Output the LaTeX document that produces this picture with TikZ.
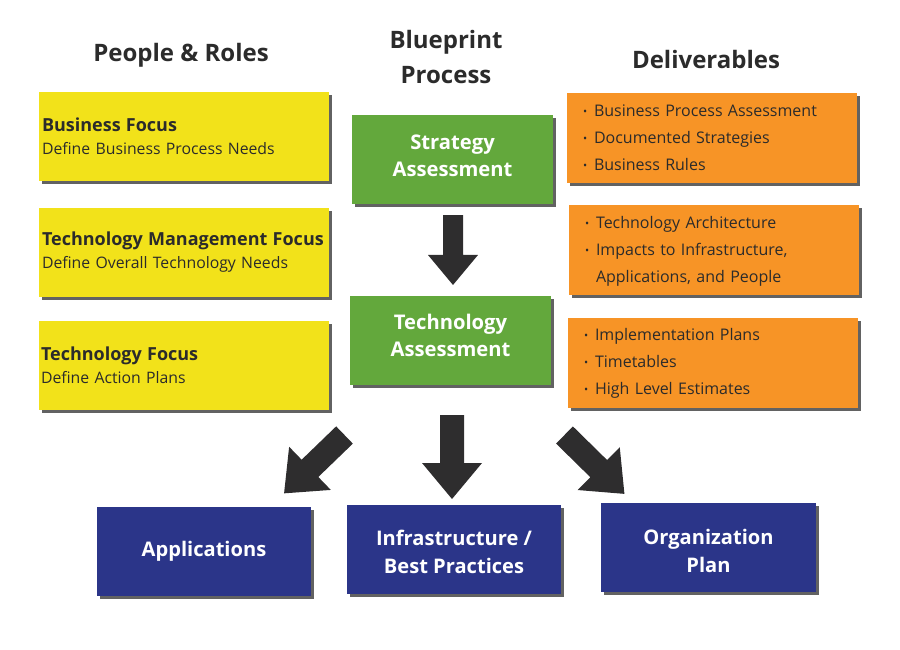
\documentclass[tikz,border=0pt]{standalone}
\usepackage{fontspec}
\setmainfont{Open Sans}
\usetikzlibrary{shadows,calc}
\definecolor{ybox}{RGB}{242,226,26}
\definecolor{gbox}{RGB}{99,168,60}
\definecolor{obox}{RGB}{247,148,38}
\definecolor{bbox}{RGB}{43,53,137}
\definecolor{arrowc}{RGB}{46,45,46}
\definecolor{txt}{RGB}{43,43,43}
\definecolor{shadowc}{RGB}{70,70,70}
\begin{document}
\begin{tikzpicture}[x=1pt,y=-1pt,
  boxbase/.style={inner sep=0pt, drop shadow={shadow xshift=3pt, shadow yshift=-3pt, fill=shadowc, opacity=0.85}},
  header/.style={text=txt, font=\fontsize{24}{35}\selectfont\bfseries, align=center},
  ybx/.style={boxbase, fill=ybox, text width=284pt, inner xsep=3pt, minimum height=89pt, align=left, text=txt, font=\fontsize{15.8}{23}\selectfont},
  gbx/.style={boxbase, fill=gbox, minimum width=201pt, minimum height=89pt, align=center, text=white, font=\fontsize{20.2}{27}\selectfont\bfseries},
  obx/.style={boxbase, fill=obox, text width=290pt, inner sep=0pt, minimum height=90pt, align=left, text=txt, font=\fontsize{16}{27}\selectfont},
  bbx/.style={boxbase, fill=bbox, minimum width=214pt, minimum height=89pt, align=center, text=white, font=\fontsize{20.1}{28}\selectfont\bfseries},
  blockarrow/.pic={\fill[arrowc] (-12,0) -- (12,0) -- (12,48) -- (30,48) -- (0,84) -- (-30,48) -- (-12,48) -- cycle;}
]
\newcommand{\bul}{\makebox[11pt][l]{\fontsize{11}{11}\selectfont\raisebox{1pt}{•}}}
\newcommand{\ind}{\hspace*{11pt}}
\newcommand{\twoline}[3]{\raisebox{#1}[0pt][0pt]{\begin{tabular}{@{}c@{}}#2\\#3\end{tabular}}}
\useasboundingbox (0,0) rectangle (900,650);

% headers
\node[header] (h1) at (181,55) {People \& Roles};
\node[header] (h2) at (446,57.5) {Blueprint\\Process};
\node[header] (h3) at (706,60) {Deliverables};

% yellow
\node[ybx] (y1) at (184,136.5) {{\fontsize{18}{23}\selectfont\bfseries Business Focus}\\Define Business Process Needs};
\node[ybx] (y2) at (184,252) {{\fontsize{18}{23}\selectfont\bfseries Technology Management Focus}\\Define Overall Technology Needs};
\node[ybx] (y3) at (184,365) {\hspace*{-1pt}{\fontsize{18}{23}\selectfont\bfseries Technology Focus}\\\hspace*{-1pt}Define Action Plans};

% green
\node[gbx] (g1) at (452.5,159.5) {\twoline{-3pt}{Strategy}{Assessment}};
\node[gbx] (g2) at (450.5,340.5) {\twoline{-2.5pt}{Technology}{Assessment}};

% orange
\node[obx] (o1) at (712,138) {\hspace*{16pt}\begin{tabular}{@{}l@{}}\bul Business Process Assessment\\\bul Documented Strategies\\\bul Business Rules\end{tabular}};
\node[obx] (o2) at (714,250) {\hspace*{16pt}\begin{tabular}{@{}l@{}}\bul Technology Architecture\\\bul Impacts to Infrastructure,\\\ind Applications, and People\end{tabular}};
\node[obx] (o3) at (713,362.5) {\hspace*{16pt}\begin{tabular}{@{}l@{}}\bul Implementation Plans\\\bul Timetables\\\bul High Level Estimates\end{tabular}};

% blue
\node[bbx] (b1) at (204,551) {Applications};
\node[bbx] (b2) at (454,549.5) {\twoline{-9.5pt}{Infrastructure /}{Best Practices}};
\node[bbx, minimum width=215pt] (b3) at (708.5,547.5) {\twoline{-10.5pt}{Organization}{Plan}};

% block arrows
\pic[scale=0.833] at (453,215) {blockarrow};
\pic at (452,415) {blockarrow};
\pic[rotate=-46] at (344.5,435) {blockarrow};
\pic[rotate=45.5] at (564.5,435) {blockarrow};
\end{tikzpicture}
\end{document}
